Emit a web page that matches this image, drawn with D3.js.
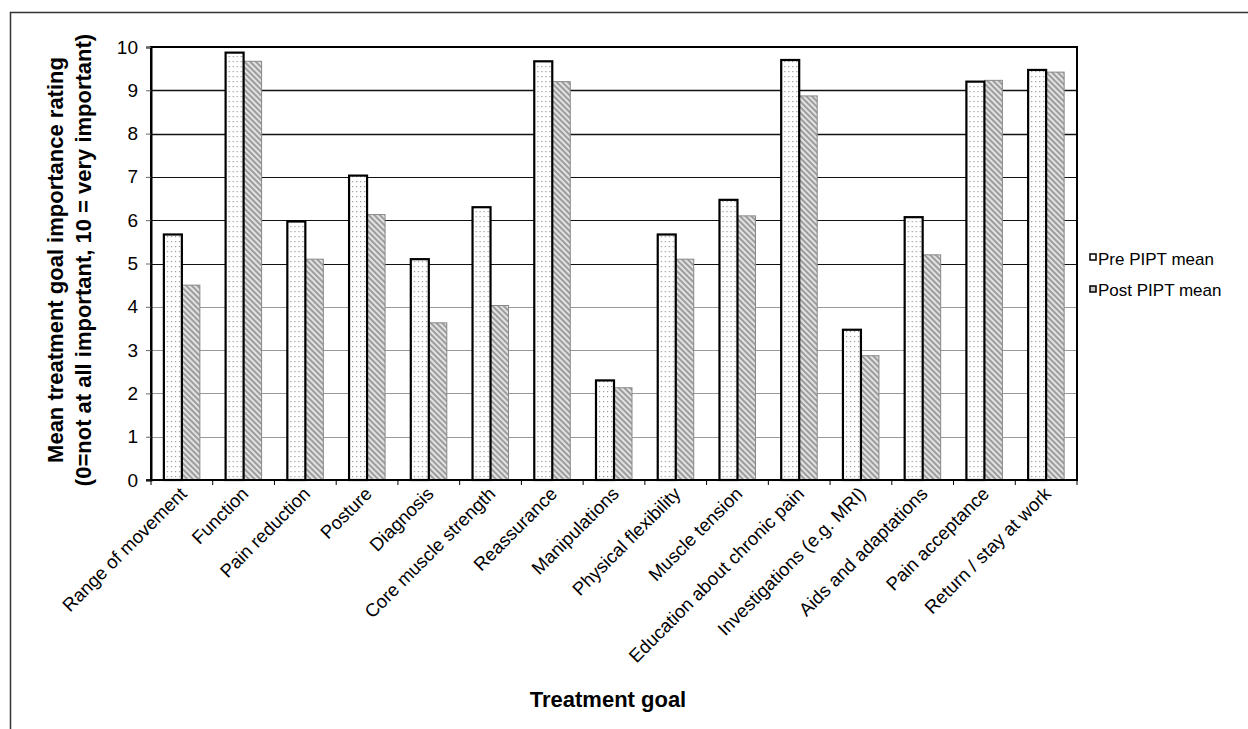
<html>
<head>
  <style>
    body { margin: 0; background: white; font-family: "Liberation Sans", Arial, sans-serif; }
  </style>
</head>
<body>
  <svg id="chart"></svg>
  <script src="https://cdn.jsdelivr.net/npm/d3@7"></script>
  <script>
    // data
    var goals = ["Range of movement", "Function", "Pain reduction", "Posture", "Diagnosis",
      "Core muscle strength", "Reassurance", "Manipulations", "Physical flexibility",
      "Muscle tension", "Education about chronic pain", "Investigations (e.g. MRI)",
      "Aids and adaptations", "Pain acceptance", "Return / stay at work"];
    var preMean = [5.67, 9.87, 5.97, 7.03, 5.1, 6.3, 9.67, 2.3, 5.67, 6.47, 9.7, 3.47, 6.07, 9.2, 9.47];
    var postMean = [4.5, 9.67, 5.1, 6.13, 3.63, 4.03, 9.2, 2.13, 5.1, 6.1, 8.87, 2.87, 5.2, 9.23, 9.42];
    var seriesNames = ["Pre PIPT mean", "Post PIPT mean"];
    var yTicks = [0, 1, 2, 3, 4, 5, 6, 7, 8, 9, 10];

    var W = 1248, H = 729;
    var pad = { top: 47, left: 151, bottom: 249, right: 171 };

    var svg = d3.select("#chart").attr("width", W).attr("height", H);
    var defs = svg.append("defs");

    // dotted fill for the pre bars
    var dots = defs.append("pattern").attr("id", "dots")
      .attr("patternUnits", "userSpaceOnUse").attr("width", 4).attr("height", 5);
    dots.append("rect").attr("width", 4).attr("height", 5).attr("fill", "white");
    dots.append("rect").attr("x", 1).attr("y", 1).attr("width", 1.2).attr("height", 1.2).attr("fill", "#999");

    // hatched fill for the post bars
    var hatch = defs.append("pattern").attr("id", "hatch")
      .attr("patternUnits", "userSpaceOnUse").attr("width", 4).attr("height", 4)
      .attr("patternTransform", "rotate(-45)");
    hatch.append("rect").attr("width", 4).attr("height", 4).attr("fill", "#e2e2e2");
    hatch.append("line").attr("x1", 1).attr("y1", 0).attr("x2", 1).attr("y2", 4)
      .attr("stroke", "#777").attr("stroke-width", 1.3);

    // outer frame (left and top edges only show)
    svg.append("path").attr("d", "M10.5,729 L10.5,12.5 L1248,12.5")
      .attr("fill", "none").attr("stroke", "#333").attr("stroke-width", 1.5);

    var x0 = pad.left, x1 = W - pad.right, y0 = H - pad.bottom, y1 = pad.top;

    var xScale = d3.scaleBand().domain(goals).range([x0, x1]).padding(0);
    var yScale = d3.scaleLinear().domain([0, 10]).range([y0, y1]);
    var barW = 18;
    var inner = d3.scaleBand().domain(seriesNames).range([-barW, barW]).padding(0);

    // gridlines
    svg.append("g").selectAll("line").data(yTicks.filter(function(t){ return t > 0 && t < 10; }))
      .enter().append("line")
      .attr("x1", x0).attr("x2", x1)
      .attr("y1", function(d){ return Math.round(yScale(d)) + 0.5; })
      .attr("y2", function(d){ return Math.round(yScale(d)) + 0.5; })
      .attr("stroke", function(d){ return d >= 5 ? "#111" : "#999"; })
      .attr("stroke-width", function(d){ return d >= 8 ? 1.6 : 1; });

    // bars
    var groups = svg.append("g").selectAll("g").data(goals).enter().append("g")
      .attr("transform", function(d){ return "translate(" + (xScale(d) + xScale.bandwidth() / 2) + ",0)"; });

    groups.append("rect")
      .attr("x", inner("Post PIPT mean"))
      .attr("width", inner.bandwidth())
      .attr("y", function(d, i){ return yScale(postMean[i]); })
      .attr("height", function(d, i){ return y0 - yScale(postMean[i]); })
      .attr("fill", "url(#hatch)").attr("stroke", "#888").attr("stroke-width", 1);

    groups.append("rect")
      .attr("x", inner("Pre PIPT mean"))
      .attr("width", inner.bandwidth())
      .attr("y", function(d, i){ return yScale(preMean[i]); })
      .attr("height", function(d, i){ return y0 - yScale(preMean[i]); })
      .attr("fill", "url(#dots)").attr("stroke", "#000").attr("stroke-width", 2.2);

    // plot border
    svg.append("rect").attr("x", x0).attr("y", y1).attr("width", x1 - x0).attr("height", y0 - y1)
      .attr("fill", "none").attr("stroke", "#000").attr("stroke-width", 2);

    // y axis
    var yAxis = d3.axisLeft(yScale).tickValues(yTicks).tickSize(5).tickPadding(8).tickFormat(d3.format("d"));
    var gy = svg.append("g").attr("transform", "translate(" + x0 + ",0)").call(yAxis);
    gy.select(".domain").attr("stroke", "#000").attr("stroke-width", 2);
    gy.selectAll(".tick line").attr("stroke", "#666");
    gy.selectAll("text").attr("font-size", "19px").attr("fill", "#000")
      .attr("font-family", "Liberation Sans, Arial, sans-serif");

    // x axis: ticks at band edges
    var edges = goals.map(function(g){ return xScale(g); }).concat([x1]);
    svg.append("g").selectAll("line").data(edges).enter().append("line")
      .attr("x1", function(d){ return d; }).attr("x2", function(d){ return d; })
      .attr("y1", y0).attr("y2", y0 + 5).attr("stroke", "#000").attr("stroke-width", 1);
    svg.append("line").attr("x1", x0 - 5).attr("x2", x1).attr("y1", y0).attr("y2", y0)
      .attr("stroke", "#000").attr("stroke-width", 1.5);

    svg.append("g").selectAll("text").data(goals).enter().append("text")
      .attr("transform", function(d){
        return "translate(" + (xScale(d) + xScale.bandwidth() / 2 + 6) + "," + (y0 + 15) + ") rotate(-45)";
      })
      .attr("text-anchor", "end")
      .attr("font-size", "18.5px")
      .text(function(d){ return d; });

    // axis titles
    svg.append("text").attr("x", 608).attr("y", 707).attr("text-anchor", "middle")
      .attr("font-size", "22px").attr("font-weight", "bold").text("Treatment goal");

    var yt = svg.append("text").attr("transform", "translate(0,260) rotate(-90)")
      .attr("text-anchor", "middle").attr("font-size", "22px").attr("font-weight", "bold");
    yt.append("tspan").attr("x", 0).attr("y", 63).text("Mean treatment goal importance rating");
    yt.append("tspan").attr("x", 0).attr("y", 91).text("(0=not at all important, 10 = very important)");

    // legend
    var legend = svg.append("g").attr("transform", "translate(1090,0)");
    legend.selectAll("rect").data(seriesNames).enter().append("rect")
      .attr("x", 0).attr("y", function(d, i){ return 254 + i * 32; })
      .attr("width", 6).attr("height", 6)
      .attr("fill", function(d, i){ return i === 0 ? "white" : "#ccc"; })
      .attr("stroke", "#000").attr("stroke-width", 1.5);
    legend.selectAll("text").data(seriesNames).enter().append("text")
      .attr("x", 8).attr("y", function(d, i){ return 265 + i * 31; })
      .attr("font-size", "17px")
      .text(function(d){ return d; });
  </script>
</body>
</html>
